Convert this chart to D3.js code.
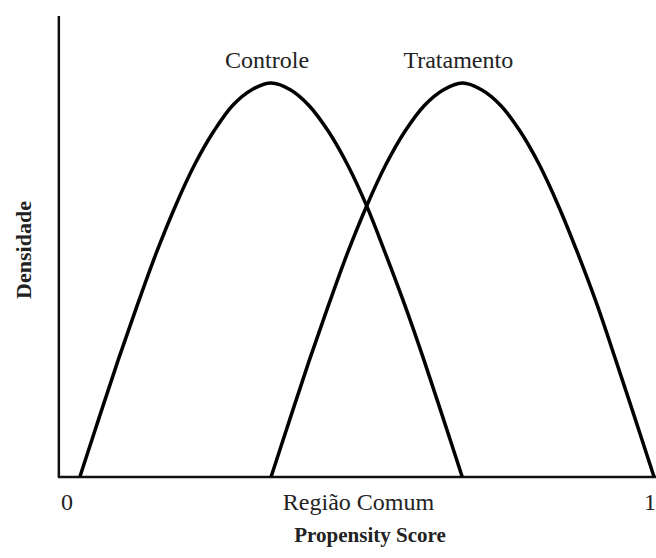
<!DOCTYPE html>
<html>
<head>
<meta charset="utf-8">
<script src="https://cdn.jsdelivr.net/npm/d3@7"></script>
<style>
  body { margin: 0; background: #fff; }
  text { font-family: "Liberation Serif", "Times New Roman", serif; fill: #222; }
</style>
</head>
<body>
<div id="chart"></div>
<script>
// valores (escala 0..1 no eixo x, densidade relativa no eixo y)
const controleX = [0.022, 0.055, 0.088, 0.121, 0.153, 0.186, 0.219, 0.252, 0.284, 0.317, 0.350,
                   0.383, 0.415, 0.448, 0.481, 0.514, 0.546, 0.579, 0.612, 0.645, 0.678];
const tratamentoX = [0.350, 0.383, 0.416, 0.449, 0.481, 0.514, 0.547, 0.580, 0.613, 0.646, 0.678,
                     0.711, 0.744, 0.777, 0.810, 0.843, 0.876, 0.909, 0.941, 0.974, 1.007];
const densidade = [0, 0.15, 0.298, 0.438, 0.568, 0.688, 0.793, 0.878, 0.943, 0.983, 1,
                   0.983, 0.943, 0.878, 0.793, 0.688, 0.568, 0.438, 0.298, 0.15, 0];
const seriesNames = ['Controle', 'Tratamento'];
const tickLabels = [{v: 0, t: '0'}, {v: 0.5, t: 'Região Comum'}, {v: 1, t: '1'}];

const width = 656;
const height = 558;
const xExtent = [-0.014, 1.011];
const yMax = 1.17;

const svg = d3.select('#chart').append('svg')
    .attr('width', width)
    .attr('height', height);

const x = d3.scaleLinear().domain([0, 1]).range([67, 650]);
const y = d3.scaleLinear().domain([0, 1]).range([477, 83]);

// eixos
svg.append('line')
    .attr('x1', x(xExtent[0])).attr('x2', x(xExtent[0]))
    .attr('y1', y(yMax)).attr('y2', y(0))
    .attr('stroke', '#111').attr('stroke-width', 2.5);
svg.append('line')
    .attr('x1', x(xExtent[0]) - 1).attr('x2', x(xExtent[1]))
    .attr('y1', y(0)).attr('y2', y(0))
    .attr('stroke', '#111').attr('stroke-width', 2.5);

// curvas
const line = d3.line()
    .x(d => x(d[0]))
    .y(d => y(d[1]))
    .curve(d3.curveCatmullRom);

const curves = [
    controleX.map((v, i) => [v, densidade[i]]),
    tratamentoX.map((v, i) => [v, densidade[i]])
];

svg.selectAll('path.curve')
    .data(curves)
    .enter()
    .append('path')
    .attr('class', 'curve')
    .attr('d', line)
    .attr('fill', 'none')
    .attr('stroke', '#000')
    .attr('stroke-width', 3.5);

// rótulos das curvas
const peaks = [controleX[10], tratamentoX[10]];
svg.selectAll('text.serie')
    .data(seriesNames)
    .enter()
    .append('text')
    .attr('class', 'serie')
    .attr('x', (d, i) => x(peaks[i]) - 4)
    .attr('y', 68)
    .attr('text-anchor', 'middle')
    .attr('font-size', '24px')
    .text(d => d);

// rótulos do eixo x
svg.selectAll('text.tick')
    .data(tickLabels)
    .enter()
    .append('text')
    .attr('class', 'tick')
    .attr('x', d => x(d.v))
    .attr('y', 510)
    .attr('text-anchor', 'middle')
    .attr('font-size', '24px')
    .text(d => d.t);

svg.append('text')
    .attr('x', 370)
    .attr('y', 542)
    .attr('text-anchor', 'middle')
    .attr('font-size', '21px')
    .attr('font-weight', 'bold')
    .text('Propensity Score');

svg.append('text')
    .attr('transform', 'translate(31,250) rotate(-90)')
    .attr('text-anchor', 'middle')
    .attr('font-size', '22px')
    .attr('font-weight', 'bold')
    .text('Densidade');
</script>
</body>
</html>
